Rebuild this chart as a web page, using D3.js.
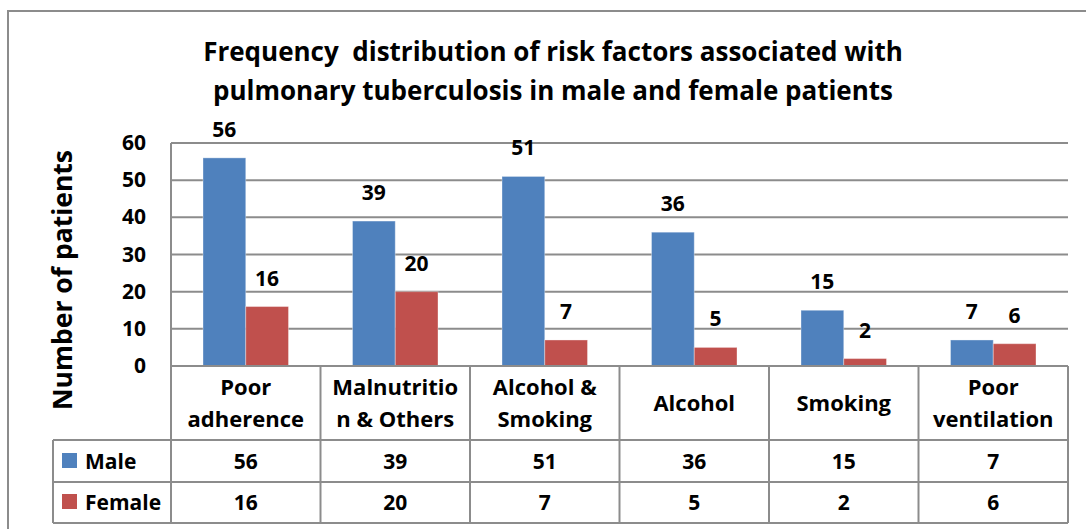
<!DOCTYPE html>
<html>
<head>
<meta charset="utf-8">
<script src="https://cdn.jsdelivr.net/npm/d3@7"></script>
<style>
  body { margin: 0; background: #fff; }
  svg { display: block; font-family: "Open Sans", Lato, sans-serif; font-weight: bold; }
</style>
</head>
<body>
<script>
var categories = [['Poor', 'adherence'], ['Malnutritio', 'n & Others'], ['Alcohol &', 'Smoking'], ['Alcohol'], ['Smoking'], ['Poor', 'ventilation']];
var seriesNames = ['Male', 'Female'];
var male = [56, 39, 51, 36, 15, 7];
var female = [16, 20, 7, 5, 2, 6];
var yTicks = [0, 10, 20, 30, 40, 50, 60];
var colors = ['#4f81bd', '#c0504d'];
var titleLines = ['Frequency  distribution of risk factors associated with', 'pulmonary tuberculosis in male and female patients'];

var W = 1086, H = 529;
var plotLeft = 171, plotRight = 1068, plotTop = 143, zero = 366;
var rowHead = 440, rowMale = 482, rowFemale = 523, legendLeft = 53;
var grid = '#8c8c8c';

var svg = d3.select('body').append('svg').attr('width', W).attr('height', H);

// chart frame (right/bottom run off the picture)
svg.append('rect').attr('x', 8).attr('y', 11).attr('width', W + 20).attr('height', H + 20)
  .attr('fill', 'none').attr('stroke', grid).attr('stroke-width', 2);

var idx = d3.range(categories.length);
var x0 = d3.scaleBand().domain(idx).range([plotLeft, plotRight]);
var x1 = d3.scaleBand().domain(seriesNames).range([32, x0.bandwidth() - 32]);
var y = d3.scaleLinear().domain([0, 60]).range([zero, plotTop]);

// gridlines
svg.append('g').selectAll('line').data(yTicks.filter(function(d) { return d > 0; })).enter()
  .append('line')
  .attr('x1', plotLeft).attr('x2', plotRight)
  .attr('y1', function(d) { return y(d); }).attr('y2', function(d) { return y(d); })
  .attr('stroke', grid).attr('stroke-width', 2);

// y tick labels
svg.append('g').selectAll('text').data(yTicks).enter().append('text')
  .attr('x', 146).attr('y', function(d) { return y(d) + 7; })
  .attr('text-anchor', 'end').attr('font-size', 21)
  .text(function(d) { return d; });

// bars
var data = [male, female];
data.forEach(function(vals, s) {
  var g = svg.append('g');
  g.selectAll('rect').data(vals).enter().append('rect')
    .attr('x', function(d, i) { return x0(i) + x1(seriesNames[s]); })
    .attr('y', function(d) { return y(d); })
    .attr('width', x1.bandwidth())
    .attr('height', function(d) { return zero - y(d); })
    .attr('fill', colors[s])
    .attr('stroke', 'rgba(255,255,255,0.35)').attr('stroke-width', 1);
  g.selectAll('text').data(vals).enter().append('text')
    .attr('x', function(d, i) { return x0(i) + x1(seriesNames[s]) + x1.bandwidth() / 2; })
    .attr('y', function(d) { return y(d) - 21; })
    .attr('text-anchor', 'middle').attr('font-size', 21)
    .text(function(d) { return d; });
});

// data table lines
var tbl = svg.append('g').attr('stroke', grid).attr('stroke-width', 2);
tbl.append('line').attr('x1', plotLeft).attr('x2', plotRight).attr('y1', zero).attr('y2', zero);
[rowHead, rowMale, rowFemale].forEach(function(yy) {
  tbl.append('line').attr('x1', legendLeft).attr('x2', plotRight).attr('y1', yy).attr('y2', yy);
});
tbl.append('line').attr('x1', plotLeft).attr('x2', plotLeft).attr('y1', plotTop).attr('y2', rowFemale);
tbl.append('line').attr('x1', legendLeft).attr('x2', legendLeft).attr('y1', rowHead).attr('y2', rowFemale);
idx.forEach(function(i) {
  tbl.append('line').attr('x1', x0(i) + x0.bandwidth()).attr('x2', x0(i) + x0.bandwidth())
    .attr('y1', zero).attr('y2', rowFemale);
});

// category labels
svg.append('g').selectAll('text').data(categories).enter().append('text')
  .attr('text-anchor', 'middle').attr('font-size', 22)
  .each(function(lines, i) {
    var t = d3.select(this);
    var cx = x0(i) + x0.bandwidth() / 2;
    var y0 = lines.length === 1 ? 411 : 395;
    lines.forEach(function(l, k) {
      t.append('tspan').attr('x', cx).attr('y', y0 + k * 32).text(l);
    });
  });

// table rows with legend keys
var rowMid = [461, 502];
data.forEach(function(vals, s) {
  svg.append('rect').attr('x', 62).attr('y', rowMid[s] - 8).attr('width', 15).attr('height', 15)
    .attr('fill', colors[s]);
  svg.append('text').attr('x', 85).attr('y', rowMid[s] + 8).attr('font-size', 21).text(seriesNames[s]);
  svg.append('g').selectAll('text').data(vals).enter().append('text')
    .attr('x', function(d, i) { return x0(i) + x0.bandwidth() / 2; })
    .attr('y', rowMid[s] + 8)
    .attr('text-anchor', 'middle').attr('font-size', 21)
    .text(function(d) { return d; });
});

// title
svg.append('g').selectAll('text').data(titleLines).enter().append('text')
  .attr('x', 553).attr('y', function(d, i) { return 61 + i * 39; })
  .attr('text-anchor', 'middle').attr('font-size', 26).attr('xml:space', 'preserve')
  .text(function(d) { return d; });

// y axis title
svg.append('text').attr('transform', 'translate(72,280) rotate(-90)')
  .attr('text-anchor', 'middle').attr('font-size', 26.5)
  .text('Number of patients');
</script>
</body>
</html>
